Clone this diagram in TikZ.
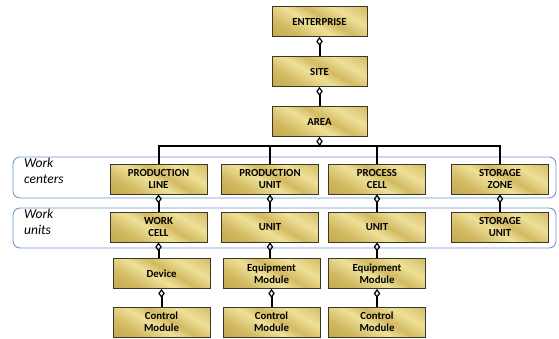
\documentclass[tikz,border=0pt]{standalone}
\usepackage{fontspec}
\setmainfont{Carlito}
\usepackage{tikz}
\usetikzlibrary{arrows.meta,positioning,calc}
\definecolor{golddark}{RGB}{180,148,52}
\definecolor{goldmid}{RGB}{210,186,98}
\definecolor{goldlight}{RGB}{238,224,152}
\definecolor{bandblue}{RGB}{112,150,204}
\definecolor{boxedge}{RGB}{60,55,40}
\pgfdeclarehorizontalshading{goldshade}{100bp}{color(0bp)=(golddark); color(30bp)=(goldmid); color(45bp)=(goldlight); color(55bp)=(goldmid); color(68bp)=(goldlight); color(85bp)=(goldmid); color(100bp)=(golddark)}
\tikzset{
  isabox/.style={draw=boxedge, line width=0.8pt, shading=goldshade, shading angle=60,
    minimum width=97pt, minimum height=30pt, inner sep=0, align=center,
    font=\fontsize{10.8}{12}\selectfont\bfseries},
  band/.style={draw=bandblue, line width=0.9pt, rounded corners=7pt, fill=white},
  bandlabel/.style={anchor=north west, align=left, inner sep=0,
    font=\fontsize{13.5}{16}\selectfont\itshape},
  agg/.style={{Diamond[open,length=9pt,width=6.5pt,line width=1.2pt]}-, line width=2pt},
}
\newcommand{\drawbox}{\node[isabox]}

\begin{document}
\begin{tikzpicture}[x=1pt,y=-1pt]
	\useasboundingbox (0,0) rectangle (559,338);

	% bands behind the two middle rows
	\draw[band] (13,157) rectangle (556,198);
	\draw[band] (13,208) rectangle (556,248);
	\node[bandlabel] (lcent) at (24,158) {Work\\centers};
	\node[bandlabel] (lunit) at (24,209) {Work\\units};

	\drawbox[minimum width=95pt] (ent) at (319.5,21.5) {ENTERPRISE};
	\drawbox[minimum width=95pt] (site) at (319.5,71.5) {SITE};
	\drawbox[minimum width=95pt] (area) at (319.5,121.5) {AREA};

	\drawbox (pline) at (158.5,179) {PRODUCTION\\LINE};
	\drawbox (punit) at (270,179) {PRODUCTION\\UNIT};
	\drawbox (pcell) at (377,179) {PROCESS\\CELL};
	\drawbox (szone) at (500,179) {STORAGE\\ZONE};

	\drawbox (wcell) at (158.5,227) {WORK\\CELL};
	\drawbox (unita) at (270,227) {UNIT};
	\drawbox (unitb) at (377,227) {UNIT};
	\drawbox (sunit) at (500,227) {STORAGE\\UNIT};

	\drawbox (dev) at (161.5,273.5) {Device};
	\drawbox (emoda) at (271.5,273.5) {Equipment\\Module};
	\drawbox (emodb) at (377,273.5) {Equipment\\Module};

	\drawbox (cmoda) at (161.5,322) {Control\\Module};
	\drawbox (cmodb) at (271.5,322) {Control\\Module};
	\drawbox (cmodc) at (377,322) {Control\\Module};

	\coordinate (bus) at (319.5,146);

	\draw[agg] (ent.south) to (site.north);
	\draw[agg] (site.south) to (area.north);
	\draw[agg] (area.south) to (bus);
	\draw[line width=2pt] (pline.north) |- (bus) -| (szone.north);
	\draw[line width=2pt] (punit.north) -- (punit.north |- bus);
	\draw[line width=2pt] (pcell.north) -- (pcell.north |- bus);

	\draw[agg] (pline.south) to (wcell.north);
	\draw[agg] (punit.south) to (unita.north);
	\draw[agg] (pcell.south) to (unitb.north);
	\draw[agg] (szone.south) to (sunit.north);

	\draw[agg] (wcell.south) to (wcell.south |- dev.north);
	\draw[agg] (unita.south) to (unita.south |- emoda.north);
	\draw[agg] (unitb.south) to (emodb.north);

	\draw[agg] (dev.south) to (cmoda.north);
	\draw[agg] (emoda.south) to (cmodb.north);
	\draw[agg] (emodb.south) to (cmodc.north);
\end{tikzpicture}
\end{document}
